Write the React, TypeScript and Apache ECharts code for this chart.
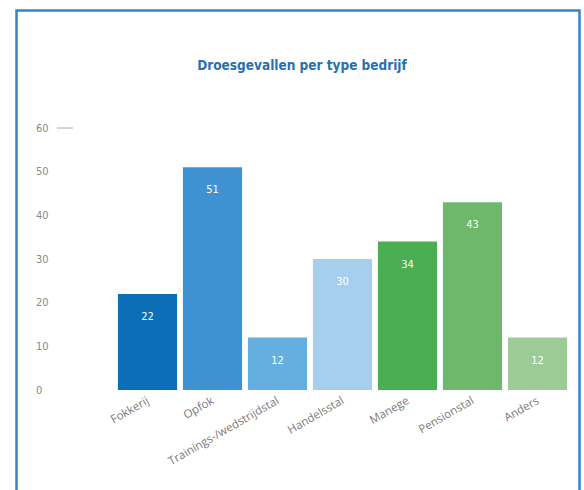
import React, { useEffect, useRef } from "react";
import * as echarts from "echarts";

const categories = ["Fokkerij", "Opfok", "Trainings-/wedstrijdstal", "Handelsstal", "Manege", "Pensionstal", "Anders"];
const values = [22, 51, 12, 30, 34, 43, 12];
const barColors = ["#0a6fb6", "#3e92d2", "#64aee0", "#a6cfee", "#4cae52", "#6db86b", "#9ccb96"];
const titleText = "Droesgevallen per type bedrijf";

export default function App() {
  const ref = useRef<HTMLDivElement>(null);
  useEffect(() => {
    if (!ref.current) return;
    const chart = echarts.init(ref.current, undefined, { renderer: "svg" });
    chart.setOption({
      animation: false,
      backgroundColor: "#ffffff",
      title: {
        text: titleText,
        left: 297,
        top: 53,
        textAlign: "center",
        textStyle: { fontFamily: "DejaVu Sans Condensed", fontWeight: "bold", fontSize: 13.5, color: "#2a6fae" },
      },
      grid: { left: 115, right: 14, top: 128, bottom: 100, containLabel: false },
      xAxis: {
        type: "category",
        data: categories,
        axisLine: { show: false },
        axisTick: { show: false },
        axisLabel: {
          rotate: 30,
          interval: 0,
          margin: 9,
          color: "#7a7a7a",
          fontSize: 11.5,
          fontFamily: "Open Sans",
        },
      },
      yAxis: {
        type: "value",
        min: 0,
        max: 60,
        interval: 10,
        axisLine: { show: false },
        axisTick: { show: false },
        splitLine: { show: false },
        axisLabel: { align: "left", margin: 79, color: "#8a8a8a", fontSize: 11, fontFamily: "DejaVu Sans Condensed" },
      },
      graphic: [
        { type: "rect", shape: { x: 16.5, y: 10.5, width: 563, height: 520 }, style: { fill: "none", stroke: "#3585c6", lineWidth: 2.5 }, silent: true, z: 100 },
        { type: "line", shape: { x1: 57, y1: 128, x2: 73, y2: 128 }, style: { stroke: "#aaaaaa", lineWidth: 1 }, silent: true },
      ],
      series: [
        {
          type: "bar",
          data: values.map((v, i) => ({ value: v, itemStyle: { color: barColors[i] } })),
          barCategoryGap: "9%",
          label: {
            show: true,
            position: "insideTop",
            distance: 17,
            color: "#ffffff",
            fontSize: 11,
            fontFamily: "DejaVu Sans Condensed",
          },
        },
      ],
    });
    return () => chart.dispose();
  }, []);
  return <div ref={ref} style={{ position: "absolute", left: 0, top: 0, width: 584, height: 490 }} />;
}
